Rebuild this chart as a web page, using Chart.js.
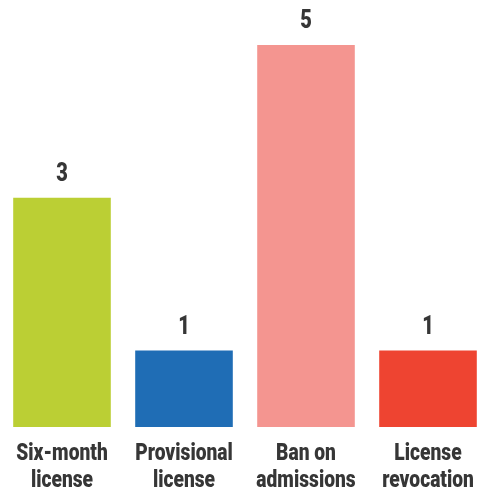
<!DOCTYPE html>
<html>
<head>
<meta charset="utf-8">
<script src="https://cdn.jsdelivr.net/npm/chart.js@4/dist/chart.umd.min.js"></script>
<style>
  html, body { margin: 0; padding: 0; background: #fff; }
  #wrap { width: 489px; height: 493px; }
</style>
</head>
<body>
<div id="wrap"><canvas id="chart"></canvas></div>
<script>
// Data
const categories = [['Six-month', 'license'], ['Provisional', 'license'], ['Ban on', 'admissions'], ['License', 'revocation']];
const counts = [3, 1, 5, 1];
const barColors = ['#bbcf34', '#1f6db5', '#f49590', '#ee4431'];

const textColor = '#363636';
const squeeze = 0.8; // the original type is a condensed face

// Draw condensed text centred on x
function drawCondensed(ctx, text, x, y) {
    ctx.save();
    ctx.translate(x, y);
    ctx.scale(squeeze, 1);
    ctx.fillText(text, 0, 0);
    ctx.restore();
}

// Counts above the bars and two-line category names under them
const barText = {
    id: 'barText',
    afterDatasetsDraw(chart) {
        const ctx = chart.ctx;
        const meta = chart.getDatasetMeta(0);
        const xScale = chart.scales.x;
        const bottom = chart.chartArea.bottom;
        ctx.save();
        ctx.fillStyle = textColor;
        ctx.textAlign = 'center';
        ctx.textBaseline = 'alphabetic';

        ctx.font = '900 25px Roboto, sans-serif';
        meta.data.forEach((bar, i) => {
            drawCondensed(ctx, String(counts[i]), bar.x, bar.y - 17);
        });

        ctx.font = '900 24px Roboto, sans-serif';
        categories.forEach((lines, i) => {
            const x = xScale.getPixelForValue(i);
            lines.forEach((line, j) => {
                drawCondensed(ctx, line, x, bottom + 33 + j * 27);
            });
        });
        ctx.restore();
    }
};

new Chart(document.getElementById('chart'), {
    type: 'bar',
    data: {
        labels: categories,
        datasets: [{
            data: counts,
            backgroundColor: barColors,
            borderWidth: 0,
            barPercentage: 0.8,
            categoryPercentage: 1.0
        }]
    },
    options: {
        responsive: true,
        maintainAspectRatio: false,
        animation: false,
        layout: { padding: { top: 45, left: 1, right: -3, bottom: 66 } },
        scales: {
            x: { display: false },
            y: { display: false, min: 0, max: 5 }
        },
        plugins: {
            legend: { display: false },
            tooltip: { enabled: false }
        }
    },
    plugins: [barText]
});
</script>
</body>
</html>
